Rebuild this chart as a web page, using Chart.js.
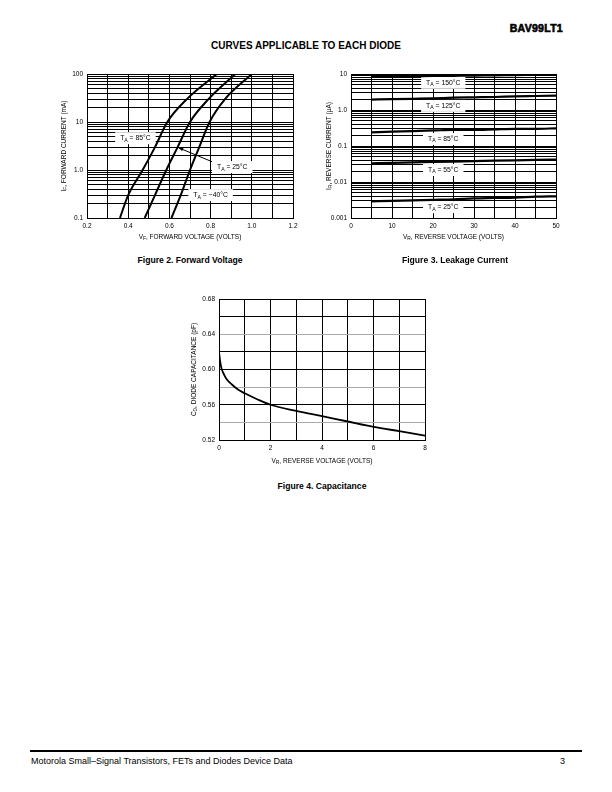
<!DOCTYPE html>
<html>
<head>
<meta charset="utf-8">
<script src="https://cdn.jsdelivr.net/npm/chart.js@4/dist/chart.umd.min.js"></script>
<style>
  body { margin: 0; width: 612px; height: 792px; background: #fff; position: relative; font-family: "Liberation Sans", Arial, sans-serif; color: #000; }
  .abs { position: absolute; white-space: nowrap; }
  canvas { position: absolute; }
  .cap { font-weight: bold; font-size: 8.6px; transform: translateX(-50%); }
</style>
</head>
<body>
<div class="abs" style="right:49px; top:22px; font-weight:900; font-size:10.5px; letter-spacing:0.3px; -webkit-text-stroke:0.6px #000;">BAV99LT1</div>
<div class="abs" style="left:306px; top:40px; font-weight:bold; font-size:10px; transform:translateX(-50%);">CURVES APPLICABLE TO EACH DIODE</div>

<canvas id="fwd" width="270" height="190" style="left:40px; top:64px;"></canvas>
<canvas id="leak" width="270" height="190" style="left:304px; top:64px;"></canvas>
<canvas id="cap" width="270" height="185" style="left:170px; top:290px;"></canvas>

<div class="abs cap" style="left:190px; top:255px;">Figure 2. Forward Voltage</div>
<div class="abs cap" style="left:455px; top:255px;">Figure 3. Leakage Current</div>
<div class="abs cap" style="left:322px; top:481px;">Figure 4. Capacitance</div>

<div class="abs" style="left:30px; top:750px; width:552px; height:2px; background:#000;"></div>
<div class="abs" style="left:31px; top:756px; font-size:9px;">Motorola Small–Signal Transistors, FETs and Diodes Device Data</div>
<div class="abs" style="left:560px; top:756px; font-size:9px;">3</div>

<script>
// ---- Figure 2: forward voltage ----
const fwdCurrent = [0.1, 0.3, 1, 3, 10, 30, 100];          // mA
const fwdV85  = [0.36, 0.40, 0.47, 0.53, 0.59, 0.685, 0.83]; // volts
const fwdV25  = [0.48, 0.53, 0.585, 0.64, 0.70, 0.79, 0.92];
const fwdVm40 = [0.61, 0.655, 0.70, 0.745, 0.795, 0.87, 1.0];
const fwdYLabels = {0.1: "0.1", 1: "1.0", 10: "10", 100: "100"};

// ---- Figure 3: leakage current ----
const revVoltage = [5, 10, 15, 20, 25, 30, 35, 40, 45, 50];
const ir150 = [8.4, 8.5, 8.6, 8.8, 8.9, 9.0, 9.2, 9.3, 9.5, 9.6];        // uA
const ir125 = [1.95, 2.0, 2.05, 2.1, 2.2, 2.25, 2.3, 2.4, 2.45, 2.5];
const ir85  = [0.24, 0.25, 0.26, 0.27, 0.28, 0.28, 0.29, 0.30, 0.30, 0.31];
const ir55  = [0.033, 0.034, 0.035, 0.036, 0.037, 0.038, 0.039, 0.040, 0.041, 0.042];
const ir25  = [0.0029, 0.0030, 0.0031, 0.0032, 0.0033, 0.0035, 0.0036, 0.0037, 0.0039, 0.0040];
const leakYLabels = {0.001: "0.001", 0.01: "0.01", 0.1: "0.1", 1: "1.0", 10: "10"};

// ---- Figure 4: capacitance ----
const capV = [0, 0.05, 0.1, 0.2, 0.3, 0.5, 0.75, 1, 1.5, 2, 3, 4, 5, 6, 7, 8];
const capC = [0.620, 0.608, 0.601, 0.594, 0.589, 0.583, 0.577, 0.573, 0.566, 0.560, 0.553, 0.547, 0.541, 0.535, 0.530, 0.525];
const capGrayLines = [0.64, 0.58, 0.54];

Chart.defaults.font.family = "'Liberation Sans', Arial, sans-serif";
Chart.defaults.font.size = 6.5;
Chart.defaults.color = "#000";
Chart.defaults.animation = false;

const FONT = "'Liberation Sans', Arial, sans-serif";

//draws "M" + subscript + rest, starting at x (left aligned)
function drawSubText(ctx, x, y, parts, size) {
    const [main, sub, rest] = parts;
    ctx.font = size + "px " + FONT;
    ctx.fillText(main, x, y);
    let w = ctx.measureText(main).width;
    ctx.font = (size * 0.75) + "px " + FONT;
    ctx.fillText(sub, x + w, y + size * 0.3);
    w += ctx.measureText(sub).width;
    ctx.font = size + "px " + FONT;
    ctx.fillText(rest, x + w, y);
}

function subTextWidth(ctx, parts, size) {
    ctx.font = size + "px " + FONT;
    let w = ctx.measureText(parts[0]).width + ctx.measureText(parts[2]).width;
    ctx.font = (size * 0.75) + "px " + FONT;
    return w + ctx.measureText(parts[1]).width;
}

/** axis titles with subscripts, plus the T_A tags */
const decorPlugin = {
    id: "decor",
    //tags go under the curves, over the grid
    beforeDatasetsDraw(chart, args, opts) {
        const ctx = chart.ctx;
        const xs = chart.scales.x, ys = chart.scales.y;
        ctx.save();
        ctx.textBaseline = "middle";
        (opts.arrows || []).forEach(a => {
            const x1 = xs.getPixelForValue(a.x1), y1 = ys.getPixelForValue(a.y1);
            const x2 = xs.getPixelForValue(a.x2), y2 = ys.getPixelForValue(a.y2);
            ctx.strokeStyle = "#000";
            ctx.fillStyle = "#000";
            ctx.lineWidth = 1;
            ctx.beginPath();
            ctx.moveTo(x1, y1);
            ctx.lineTo(x2, y2);
            ctx.stroke();
            const ang = Math.atan2(y2 - y1, x2 - x1);
            ctx.beginPath();
            ctx.moveTo(x2, y2);
            ctx.lineTo(x2 - 5 * Math.cos(ang - 0.4), y2 - 5 * Math.sin(ang - 0.4));
            ctx.lineTo(x2 - 5 * Math.cos(ang + 0.4), y2 - 5 * Math.sin(ang + 0.4));
            ctx.closePath();
            ctx.fill();
        });
        (opts.tags || []).forEach(t => {
            const parts = ["T", "A", " = " + t.text];
            const tsize = 6.8;
            const w = subTextWidth(ctx, parts, tsize);
            const cx = xs.getPixelForValue(t.x), cy = ys.getPixelForValue(t.y);
            ctx.fillStyle = "#fff";
            ctx.fillRect(cx - w / 2 - 5, cy - 6, w + 10, 12);
            ctx.fillStyle = "#000";
            drawSubText(ctx, cx - w / 2, cy, parts, tsize);
        });
        ctx.restore();
    },
    afterDraw(chart, args, opts) {
        const ctx = chart.ctx;
        const area = chart.chartArea;
        const size = 6.5;
        ctx.save();
        ctx.fillStyle = "#000";
        ctx.textBaseline = "middle";
        if (opts.xTitle) {
            const w = subTextWidth(ctx, opts.xTitle, size);
            drawSubText(ctx, (area.left + area.right) / 2 - w / 2, area.bottom + opts.xOffset, opts.xTitle, size);
        }
        if (opts.yTitle) {
            const w = subTextWidth(ctx, opts.yTitle, size);
            ctx.save();
            ctx.translate(area.left - opts.yOffset, (area.top + area.bottom) / 2);
            ctx.rotate(-Math.PI / 2);
            drawSubText(ctx, -w / 2, 0, opts.yTitle, size);
            ctx.restore();
        }
        ctx.restore();
    }
};

function logTicks(min, max) {
    const out = [];
    for (let e = Math.round(Math.log10(min)); e < Math.round(Math.log10(max)); e++) {
        for (let m = 1; m < 10; m++) out.push(parseFloat((m * Math.pow(10, e)).toPrecision(3)));
    }
    out.push(max);
    return out;
}

function gridOpts(color) {
    return { color: color || "#000", lineWidth: 1, drawTicks: false };
}

function pairs(xs, ys) {
    return xs.map((x, i) => ({x: x, y: ys[i]}));
}

function curve(data, width) {
    return { data: data, borderColor: "#000", borderWidth: width, pointRadius: 0, tension: 0.4, cubicInterpolationMode: "monotone" };
}

//================================
// Figure 2
//================================
new Chart(document.getElementById("fwd"), {
    type: "line",
    data: {
        datasets: [
            curve(pairs(fwdV85, fwdCurrent), 2),
            curve(pairs(fwdV25, fwdCurrent), 2),
            curve(pairs(fwdVm40, fwdCurrent), 2)
        ]
    },
    options: {
        responsive: false,
        layout: { padding: { left: 0, right: 17, top: 10, bottom: 16 } },
        plugins: {
            legend: { display: false }, tooltip: { enabled: false },
            decor: {
                xTitle: ["V", "F", ", FORWARD VOLTAGE (VOLTS)"], xOffset: 19,
                yTitle: ["I", "F", ", FORWARD CURRENT (mA)"], yOffset: 23,
                tags: [
                    {x: 0.435, y: 4.6, text: "85°C"},
                    {x: 0.905, y: 1.15, text: "25°C"},
                    {x: 0.80, y: 0.30, text: "−40°C"}
                ],
                arrows: [{x1: 0.81, y1: 1.47, x2: 0.645, y2: 2.9}]
            }
        },
        scales: {
            x: {
                type: "linear", min: 0.2, max: 1.2,
                afterBuildTicks: s => { s.ticks = [0.2,0.3,0.4,0.5,0.6,0.7,0.8,0.9,1.0,1.1,1.2].map(v => ({value: v})); },
                afterFit: s => { s.height = 20; },
                grid: gridOpts(), border: { color: "#000", width: 1 },
                ticks: { autoSkip: false, maxRotation: 0, padding: 4,
                    callback: v => (Math.round(v * 10) % 2 === 0 ? v.toFixed(1) : "") }
            },
            y: {
                type: "logarithmic", min: 0.1, max: 100,
                afterBuildTicks: s => { s.ticks = logTicks(0.1, 100).map(v => ({value: v})); },
                afterFit: s => { s.width = 47; },
                grid: gridOpts(), border: { color: "#000", width: 1 },
                ticks: { autoSkip: false, padding: 4, callback: v => fwdYLabels[v] || "" }
            }
        }
    },
    plugins: [decorPlugin]
});

//================================
// Figure 3
//================================
new Chart(document.getElementById("leak"), {
    type: "line",
    data: {
        datasets: [
            curve(pairs(revVoltage, ir150), 2.2),
            curve(pairs(revVoltage, ir125), 2.2),
            curve(pairs(revVoltage, ir85), 2.2),
            curve(pairs(revVoltage, ir55), 2.2),
            curve(pairs(revVoltage, ir25), 2.2)
        ]
    },
    options: {
        responsive: false,
        layout: { padding: { left: 0, right: 18, top: 10, bottom: 16 } },
        plugins: {
            legend: { display: false }, tooltip: { enabled: false },
            decor: {
                xTitle: ["V", "R", ", REVERSE VOLTAGE (VOLTS)"], xOffset: 19,
                yTitle: ["I", "R", ", REVERSE CURRENT (μA)"], yOffset: 22,
                tags: [
                    {x: 22.5, y: 5.7, text: "150°C"},
                    {x: 22.5, y: 1.3, text: "125°C"},
                    {x: 22.5, y: 0.156, text: "85°C"},
                    {x: 22.5, y: 0.0215, text: "55°C"},
                    {x: 22.5, y: 0.002, text: "25°C"}
                ]
            }
        },
        scales: {
            x: {
                type: "linear", min: 0, max: 50,
                afterBuildTicks: s => { s.ticks = [0,5,10,15,20,25,30,35,40,45,50].map(v => ({value: v})); },
                afterFit: s => { s.height = 20; },
                grid: gridOpts(), border: { color: "#000", width: 1 },
                ticks: { autoSkip: false, maxRotation: 0, padding: 4, callback: v => (v % 10 === 0 ? String(v) : "") }
            },
            y: {
                type: "logarithmic", min: 0.001, max: 10,
                afterBuildTicks: s => { s.ticks = logTicks(0.001, 10).map(v => ({value: v})); },
                afterFit: s => { s.width = 47; },
                grid: gridOpts(), border: { color: "#000", width: 1 },
                ticks: { autoSkip: false, padding: 4, callback: v => leakYLabels[v] || "" }
            }
        }
    },
    plugins: [decorPlugin]
});

//================================
// Figure 4
//================================
new Chart(document.getElementById("cap"), {
    type: "line",
    data: { datasets: [curve(pairs(capV, capC), 1.8)] },
    options: {
        responsive: false,
        layout: { padding: { left: 0, right: 15, top: 9, bottom: 15 } },
        plugins: {
            legend: { display: false }, tooltip: { enabled: false },
            decor: {
                xTitle: ["V", "R", ", REVERSE VOLTAGE (VOLTS)"], xOffset: 21,
                yTitle: ["C", "D", ", DIODE CAPACITANCE (pF)"], yOffset: 25
            }
        },
        scales: {
            x: {
                type: "linear", min: 0, max: 8,
                afterBuildTicks: s => { s.ticks = [0,1,2,3,4,5,6,7,8].map(v => ({value: v})); },
                afterFit: s => { s.height = 20; },
                grid: gridOpts(), border: { color: "#000", width: 1 },
                ticks: { autoSkip: false, maxRotation: 0, padding: 4, callback: v => (v % 2 === 0 ? String(v) : "") }
            },
            y: {
                type: "linear", min: 0.52, max: 0.68,
                afterBuildTicks: s => { s.ticks = [0.52,0.54,0.56,0.58,0.60,0.62,0.64,0.66,0.68].map(v => ({value: v})); },
                afterFit: s => { s.width = 49; },
                grid: {
                    drawTicks: false, lineWidth: 1,
                    color: c => (c.tick && capGrayLines.some(g => Math.abs(g - c.tick.value) < 1e-6) ? "#aaa" : "#000")
                },
                border: { color: "#000", width: 1 },
                ticks: { autoSkip: false, padding: 4,
                    callback: v => (Math.round(v * 100) % 4 === 0 ? v.toFixed(2) : "") }
            }
        }
    },
    plugins: [decorPlugin]
});
</script>
</body>
</html>
